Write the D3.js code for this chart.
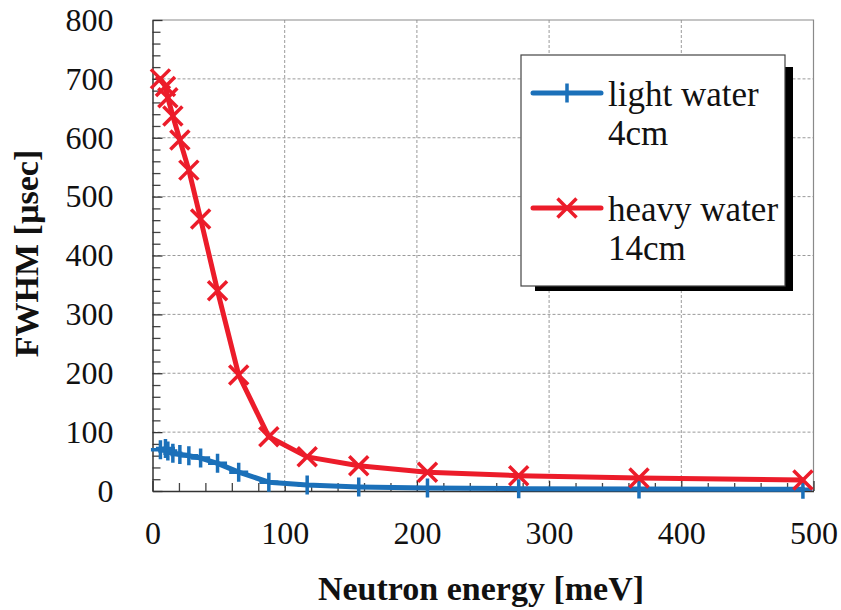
<!DOCTYPE html>
<html>
<head>
<meta charset="utf-8">
<script src="https://cdn.jsdelivr.net/npm/d3@7"></script>
<style>
	body { margin: 0; background: #fff; }
</style>
</head>
<body>
<div id="chart"></div>
<script>
// neutron energy [meV] of each measured point
const energy = [6, 9.8, 11.6, 15.4, 20.7, 27.5, 36.4, 49.2, 65.2, 88, 117, 156, 208, 277, 368, 492];
// FWHM [usec]
const lightWater = [70, 72, 68, 64, 62, 60, 56, 47, 32, 15, 10, 7, 5, 4, 3.5, 3];
const heavyWater = [700, 687, 668, 637, 596, 545, 462, 340, 197, 92, 58, 43, 32, 26, 22, 18.7];

const xTicks = [0, 100, 200, 300, 400, 500];
const yTicks = [0, 100, 200, 300, 400, 500, 600, 700, 800];
const minorStep = 20;

const seriesNames = ["light water", "heavy water"];
const seriesSub = ["4cm", "14cm"];

const W = 841, H = 610;
const plot = {left: 152.5, right: 813.5, top: 20, bottom: 491};
const BLUE = "#1b70b9", RED = "#ec1c2a";
const SERIF = "Liberation Serif";

const svg = d3.select("#chart").append("svg")
	.attr("width", W).attr("height", H)
	.attr("viewBox", `0 0 ${W} ${H}`);

const x = d3.scaleLinear([0, 500], [plot.left, plot.right]);
const y = d3.scaleLinear([0, 800], [plot.bottom, plot.top]);

// grid
const grid = svg.append("g").attr("stroke", "#9a9a9a").attr("stroke-width", 1).attr("stroke-dasharray", "3,2");
grid.selectAll(".gx").data(xTicks.slice(1, -1)).join("line")
	.attr("x1", d => x(d)).attr("x2", d => x(d))
	.attr("y1", plot.top).attr("y2", plot.bottom);
grid.selectAll(".gy").data(yTicks.slice(1, -1)).join("line")
	.attr("y1", d => y(d)).attr("y2", d => y(d))
	.attr("x1", plot.left).attr("x2", plot.right);

// top / right frame
svg.append("path")
	.attr("d", `M${plot.left},${plot.top}H${plot.right}V${plot.bottom}`)
	.attr("fill", "none").attr("stroke", "#8a8a8a").attr("stroke-width", 1.2);

// minor ticks
const minorX = d3.range(0, 501, minorStep).filter(d => d % 100);
const minorY = d3.range(0, 801, minorStep).filter(d => d % 100);

svg.append("g")
	.attr("transform", `translate(${plot.left},0)`)
	.call(d3.axisLeft(y).tickValues(minorY).tickSize(-8).tickFormat(""))
	.call(g => g.select(".domain").remove())
	.call(g => g.selectAll("line").attr("stroke", "#444").attr("stroke-width", 1.3));

svg.append("g")
	.attr("transform", `translate(0,${plot.bottom})`)
	.call(d3.axisBottom(x).tickValues(minorX).tickSize(-8).tickFormat(""))
	.call(g => g.select(".domain").remove())
	.call(g => g.selectAll("line").attr("stroke", "#444").attr("stroke-width", 1.3));

// major axes
function styleAxis(g) {
	g.attr("font-family", SERIF).attr("font-size", 32);
	g.select(".domain").attr("stroke", "#333").attr("stroke-width", 1.5);
	g.selectAll(".tick line").attr("stroke", "#333").attr("stroke-width", 1.3);
	g.selectAll(".tick text").attr("fill", "#111")
		.style("font-family", SERIF).style("font-size", "32px");
}

svg.append("g")
	.attr("transform", `translate(${plot.left},0)`)
	.call(d3.axisLeft(y).tickValues(yTicks).tickSize(-10).tickSizeOuter(0).tickPadding(39))
	.call(styleAxis);

svg.append("g")
	.attr("transform", `translate(0,${plot.bottom})`)
	.call(d3.axisBottom(x).tickValues(xTicks).tickSize(-10).tickSizeOuter(0).tickPadding(30))
	.call(styleAxis);

// axis titles
svg.append("text")
	.attr("x", (plot.left + plot.right) / 2 - 2).attr("y", 600)
	.attr("text-anchor", "middle").attr("fill", "#111")
	.style("font-family", SERIF).style("font-weight", "bold").style("font-size", "34px")
	.text("Neutron energy [meV]");

svg.append("text")
	.attr("transform", `translate(38,${(plot.top + plot.bottom) / 2 - 2}) rotate(-90)`)
	.attr("text-anchor", "middle").attr("fill", "#111")
	.style("font-family", SERIF).style("font-weight", "bold").style("font-size", "34px")
	.text("FWHM [µsec]");

// markers
const plusPath = s => `M${-s},0H${s}M0,${-s}V${s}`;
const crossPath = s => `M${-s},${-s}L${s},${s}M${-s},${s}L${s},${-s}`;

const series = [
	{values: lightWater, color: BLUE, marker: plusPath(9.5)},
	{values: heavyWater, color: RED, marker: crossPath(9.5)}
];

const line = d3.line().x(d => x(d[0])).y(d => y(d[1]));

series.forEach(s => {
	const pts = energy.map((e, i) => [e, s.values[i]]);
	const g = svg.append("g");
	g.append("path")
		.attr("d", line(pts))
		.attr("fill", "none").attr("stroke", s.color).attr("stroke-width", 5)
		.attr("stroke-linejoin", "round").attr("stroke-linecap", "round");
	g.selectAll(".m").data(pts).join("path")
		.attr("transform", d => `translate(${x(d[0])},${y(d[1])})`)
		.attr("d", s.marker)
		.attr("fill", "none").attr("stroke", s.color).attr("stroke-width", 3.5);
});

// legend
const legend = svg.append("g");
legend.append("rect").attr("x", 535).attr("y", 67).attr("width", 258).attr("height", 224).attr("fill", "#000");
legend.append("rect").attr("x", 521).attr("y", 55).attr("width", 264).attr("height", 231)
	.attr("fill", "#fff").attr("stroke", "#444").attr("stroke-width", 1.2);

const rowY = [93, 208];
series.forEach((s, i) => {
	const ly = rowY[i];
	legend.append("line").attr("x1", 533).attr("x2", 601).attr("y1", ly).attr("y2", ly)
		.attr("stroke", s.color).attr("stroke-width", 5).attr("stroke-linecap", "round");
	legend.append("path").attr("transform", `translate(567,${ly})`).attr("d", s.marker)
		.attr("fill", "none").attr("stroke", s.color).attr("stroke-width", 3.5);
	legend.append("text").attr("x", 608).attr("y", ly + 13).attr("fill", "#111")
		.style("font-family", SERIF).style("font-size", "35px")
		.text(seriesNames[i]);
	legend.append("text").attr("x", 608).attr("y", ly + 52).attr("fill", "#111")
		.style("font-family", SERIF).style("font-size", "35px")
		.text(seriesSub[i]);
});
</script>
</body>
</html>
